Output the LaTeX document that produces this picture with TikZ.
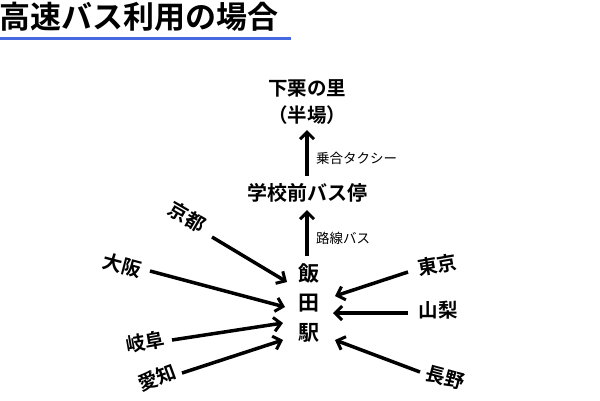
\documentclass[tikz,border=0pt]{standalone}
\usepackage{fontspec}
\setmainfont{Noto Sans CJK JP}[BoldFont={Noto Sans CJK JP Bold}]
\usetikzlibrary{arrows.meta}
\begin{document}
\begin{tikzpicture}[x=1pt,y=-1pt,
  lbl/.style={font=\bfseries\fontsize{19.5}{19.5}\selectfont,inner sep=0pt},
  sm/.style={font=\fontsize{13.5}{13.5}\selectfont,inner sep=0pt,anchor=west},
  arr/.style={line width=3.5pt,-{Straight Barb[length=7pt,width=14pt,line width=3pt]}}]
\useasboundingbox (0,0) rectangle (600,400);
\node[anchor=west,inner sep=0pt,font=\bfseries\fontsize{31}{31}\selectfont] (title) at (-1,17) {高速バス利用の場合};
\draw[color={rgb,255:red,70;green,105;blue,225},line width=3pt] (0,38) -- (291,38);
\node[lbl] (shimo) at (307,88) {下栗の里};
\node[lbl] (hanba) at (307,115) {（半場）};
\node[lbl,font=\bfseries\fontsize{20}{20}\selectfont] (gakko) at (307,193) {学校前バス停};
\node[sm] (taxi) at (316,158) {乗合タクシー};
\node[sm] (rosen) at (316,238) {路線バス};
\node[lbl,font=\bfseries\fontsize{21}{21}\selectfont] (ii) at (309,273) {飯};
\node[lbl,font=\bfseries\fontsize{21}{21}\selectfont] (da) at (309,303) {田};
\node[lbl,font=\bfseries\fontsize{21}{21}\selectfont] (eki) at (309,333) {駅};
\node[lbl,rotate=-30] (kyoto) at (187,217) {京都};
\node[lbl,rotate=-15] (osaka) at (122,265) {大阪};
\node[lbl,rotate=10] (gifu) at (145,342) {岐阜};
\node[lbl,rotate=20] (aichi) at (157,378) {愛知};
\node[lbl,rotate=10] (tokyo) at (437,265) {東京};
\node[lbl] (yama) at (438,310) {山梨};
\node[lbl,rotate=-15] (nagano) at (445,378) {長野};
\coordinate (k1) at (212,237); \coordinate (k2) at (287,282);
\coordinate (o1) at (150,271); \coordinate (o2) at (285,307);
\coordinate (g1) at (172,340); \coordinate (g2) at (283,323);
\coordinate (a1) at (182,373); \coordinate (a2) at (283,340);
\coordinate (t1) at (408,272); \coordinate (t2) at (335,296);
\coordinate (y1) at (408,313); \coordinate (y2) at (333,313);
\coordinate (n1) at (420,372); \coordinate (n2) at (335,340);
\coordinate (u1) at (307,256); \coordinate (u2) at (307,210);
\coordinate (v1) at (307,176); \coordinate (v2) at (307,130);
\draw[arr] (k1) -- (k2);
\draw[arr] (o1) -- (o2);
\draw[arr] (g1) -- (g2);
\draw[arr] (a1) -- (a2);
\draw[arr] (t1) -- (t2);
\draw[arr] (y1) -- (y2);
\draw[arr] (n1) -- (n2);
\draw[arr] (u1) -- (u2);
\draw[arr] (v1) -- (v2);
\end{tikzpicture}
\end{document}
